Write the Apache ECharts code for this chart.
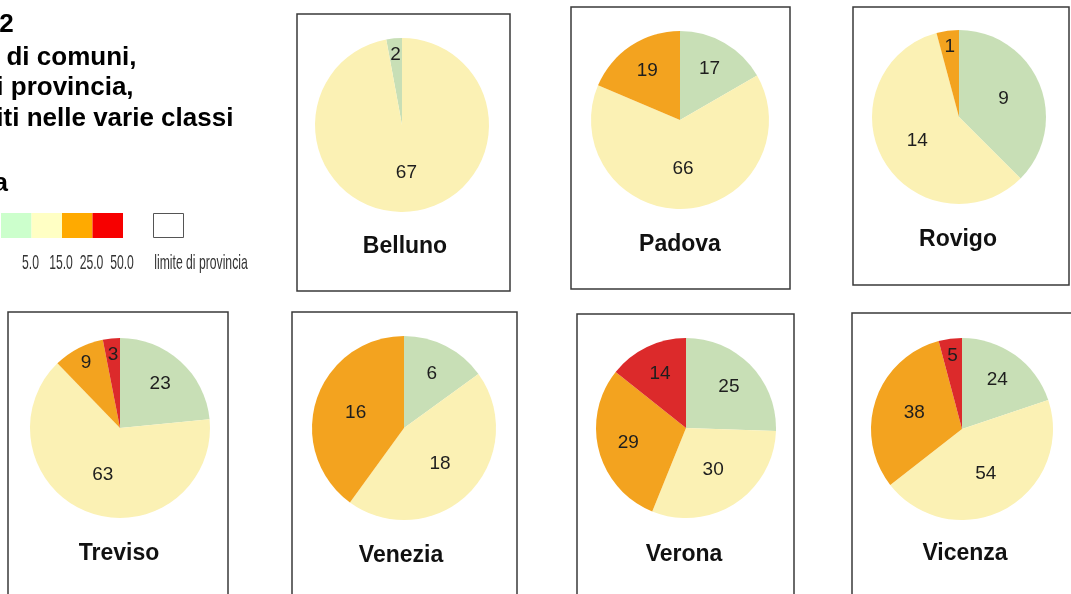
<!DOCTYPE html>
<html><head><meta charset="utf-8">
<script src="https://cdn.jsdelivr.net/npm/echarts@6/dist/echarts.min.js"></script>
<style>html,body{margin:0;padding:0;background:#fff}#c{width:1071px;height:594px}</style>
</head><body><div id="c"></div>
<script>
// ---- data ----
const provinces = ['Belluno','Padova','Rovigo','Treviso','Venezia','Verona','Vicenza'];
const classi = ['fino a 5.0','5.0 - 15.0','15.0 - 25.0','25.0 - 50.0'];
const legendTicks = ['5.0','15.0','25.0','50.0'];
const fino5   = [2, 17,  9, 23,  6, 25, 24];
const da5a15  = [67, 66, 14, 63, 18, 30, 54];
const da15a25 = [0, 19,  1,  9, 16, 29, 38];
const da25a50 = [0,  0,  0,  3,  0, 14,  5];
const titleLines = ['Grafico 2','Numero di comuni,','per ogni provincia,','distribuiti nelle varie classi','Legenda'];
const boundaryNote = 'limite di provincia';

// ---- styles / layout ----
const sliceColors = ['#c8dfb6','#fbf1b4','#f3a31f','#dc2a2b'];
const legendColors = ['#ccffcc','#ffffc4','#ffaa00','#f70000'];
const pieLayout = [
  {c:[402,125], r:87, box:[297,14,213,277], t:[405,247], cw:false},
  {c:[680,120], r:89, box:[571,7,219,282],  t:[680,245], cw:true},
  {c:[959,117], r:87, box:[853,7,216,278],  t:[958,240], cw:true},
  {c:[120,428], r:90, box:[8,312,220,300],  t:[119,554], cw:true},
  {c:[404,428], r:92, box:[292,312,225,300],t:[401,556], cw:true},
  {c:[686,428], r:90, box:[577,314,217,300],t:[684,555], cw:true},
  {c:[962,429], r:91, box:[852,313,222,300],t:[965,554], cw:true}
];
const bands = [0.04, 0.26, 0.56];
function bandOf(share){ return share < 0.1 ? 2 : (share < 0.3 ? 1 : 0); }

const series = [];
const graphics = [];
provinces.forEach((p, i) => {
  const vals = [fino5[i], da5a15[i], da15a25[i], da25a50[i]];
  const total = vals.reduce((a,b)=>a+b,0);
  const L = pieLayout[i];
  series.push({
    type:'pie', name:p, center:L.c, radius:[0, L.r], startAngle:90, clockwise:L.cw,
    silent:true, animation:false, label:{show:false}, labelLine:{show:false},
    emphasis:{disabled:true},
    data: vals.map((v,k)=>({name:classi[k], value:v, itemStyle:{color:sliceColors[k]}}))
  });
  bands.forEach((f, b) => {
    series.push({
      type:'pie', name:p+'-lab'+b, center:L.c, radius:[f*L.r, L.r], startAngle:90, clockwise:L.cw,
      silent:true, animation:false, labelLine:{show:false}, emphasis:{disabled:true}, z:5,
      itemStyle:{color:'rgba(0,0,0,0)'},
      label:{show:true, position:'inside', fontSize:19, fontFamily:'"Liberation Sans", Arial, sans-serif',
             color:'#1e1e1e', formatter:(pp)=>String(pp.value)},
      data: vals.map((v,k)=>({name:classi[k], value:v,
        label:{show: v>0 && bandOf(v/total)===b}}))
    });
  });
  const bx = L.box;
  graphics.push({type:'rect', shape:{x:bx[0], y:bx[1], width:bx[2], height:bx[3]},
    style:{fill:'none', stroke:'#3a3a3a', lineWidth:1.5}, z:1});
  graphics.push({type:'text', x:L.t[0], y:L.t[1], z:10,
    style:{text:p, fill:'#111', font:'bold 23px "Liberation Sans", Arial, sans-serif',
           align:'center', verticalAlign:'middle'}});
});

// title block (partly cut off at left edge)
const titleY = [25, 58, 88, 119, 184];
titleLines.forEach((t, k) => {
  graphics.push({type:'text', x:-99, y:titleY[k], z:10,
    style:{text:t, fill:'#000', font:'bold 26px "Liberation Sans", Arial, sans-serif',
           align:'left', verticalAlign:'middle'}});
});

// legend
legendColors.forEach((col, k) => {
  graphics.push({type:'rect', shape:{x:1 + k*30.5, y:213, width:30.5, height:25},
    style:{fill:col, stroke:null}, z:10});
  graphics.push({type:'text', x:1 + (k+1)*30.5 - 1, y:263, scaleX:0.58, z:10,
    style:{text:legendTicks[k], fill:'#333', font:'21px "Liberation Sans", Arial, sans-serif',
           align:'center', verticalAlign:'middle'}});
});
graphics.push({type:'rect', shape:{x:153.5, y:213.5, width:30, height:24},
  style:{fill:'#fff', stroke:'#555', lineWidth:1}, z:10});
graphics.push({type:'text', x:201, y:263, scaleX:0.58, z:10,
  style:{text:boundaryNote, fill:'#333', font:'21px "Liberation Sans", Arial, sans-serif',
         align:'center', verticalAlign:'middle'}});

const chart = echarts.init(document.getElementById('c'), null, {renderer:'canvas'});
chart.setOption({
  backgroundColor:'#ffffff',
  animation:false,
  series: series,
  graphic: {elements: graphics}
});
</script></body></html>
